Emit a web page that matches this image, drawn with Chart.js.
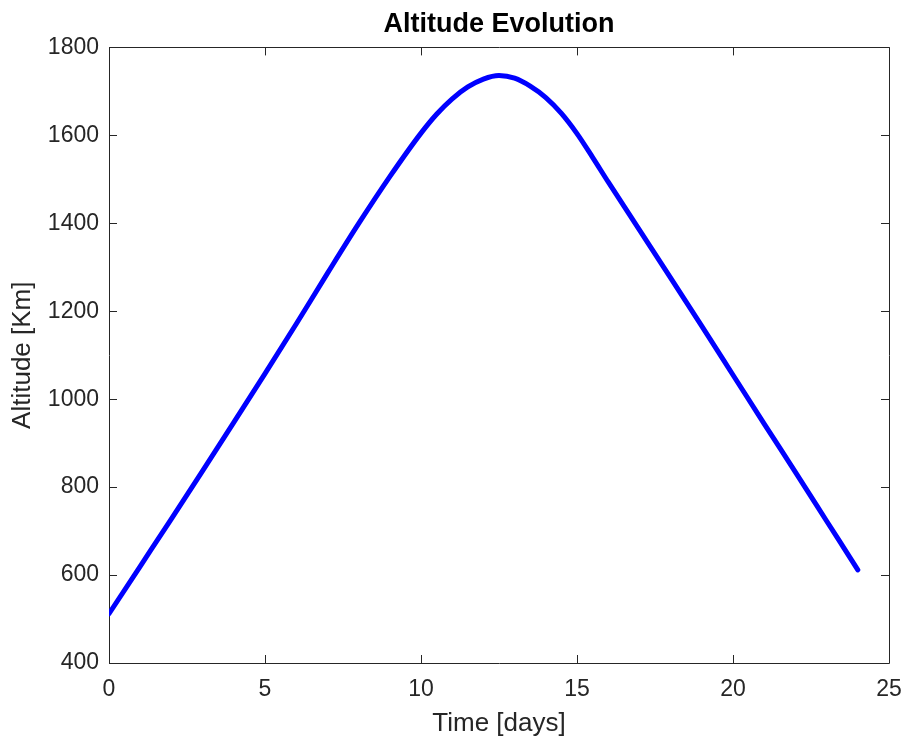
<!DOCTYPE html>
<html>
<head>
<meta charset="utf-8">
<script src="https://cdn.jsdelivr.net/npm/chart.js@4.4.0/dist/chart.umd.min.js"></script>
<style>
  html, body { margin: 0; padding: 0; background: #fff; }
  #wrap { width: 906px; height: 740px; }
</style>
</head>
<body>
<div id="wrap"><canvas id="altChart" width="906" height="740"></canvas></div>
<script>
// values
const days = [0, 1, 2, 3, 4, 5, 6, 7, 8, 9, 10, 10.5, 11, 11.5, 12, 12.5, 13, 13.5, 14, 14.5, 15, 15.5, 16, 17, 18, 19, 20, 21, 22, 23, 24];
const altitudeKm = [512, 620, 728, 837, 947, 1058, 1171, 1286, 1399, 1506, 1605, 1648, 1683, 1710, 1728, 1736, 1730, 1712, 1686, 1650, 1604, 1550, 1494, 1385, 1276, 1166, 1055, 944, 834, 723, 612];
const xTicks = [0, 5, 10, 15, 20, 25];
const yTicks = [400, 600, 800, 1000, 1200, 1400, 1600, 1800];

const FONT = '"Liberation Sans", Arial, Helvetica, sans-serif';
const AXIS_COLOR = "#262626";

// matlab style box with ticks pointing inwards
const boxPlugin = {
  id: "box",
  beforeDatasetsDraw(chart) {
    const { ctx, chartArea: a, scales: { x, y } } = chart;
    const len = 8;
    ctx.save();
    ctx.strokeStyle = AXIS_COLOR;
    ctx.lineWidth = 1;
    ctx.beginPath();
    ctx.rect(Math.round(a.left) + 0.5, Math.round(a.top) + 0.5,
      Math.round(a.right) - Math.round(a.left), Math.round(a.bottom) - Math.round(a.top));
    x.ticks.forEach(t => {
      const px = Math.round(x.getPixelForValue(t.value)) + 0.5;
      ctx.moveTo(px, a.bottom); ctx.lineTo(px, a.bottom - len);
      ctx.moveTo(px, a.top); ctx.lineTo(px, a.top + len);
    });
    y.ticks.forEach(t => {
      const py = Math.round(y.getPixelForValue(t.value)) + 0.5;
      ctx.moveTo(a.left, py); ctx.lineTo(a.left + len, py);
      ctx.moveTo(a.right, py); ctx.lineTo(a.right - len, py);
    });
    ctx.stroke();
    ctx.restore();
  }
};

const points = days.map((d, i) => ({ x: d, y: altitudeKm[i] }));

new Chart(document.getElementById("altChart").getContext("2d"), {
  type: "line",
  data: {
    datasets: [{
      label: "Altitude",
      data: points,
      borderColor: "#0000ff",
      borderWidth: 5,
      pointRadius: 0,
      fill: false,
      cubicInterpolationMode: "monotone",
      borderCapStyle: "round",
      borderJoinStyle: "round"
    }]
  },
  options: {
    responsive: false,
    animation: false,
    layout: { padding: { left: 0, right: 17, top: 0, bottom: 0 } },
    plugins: {
      legend: { display: false },
      tooltip: { enabled: false },
      title: {
        display: true,
        fullSize: false,
        text: "Altitude Evolution",
        color: "#000",
        font: { family: FONT, size: 27, weight: "bold" },
        padding: { top: 8, bottom: 7 }
      }
    },
    scales: {
      x: {
        type: "linear",
        min: 0,
        max: 25,
        afterBuildTicks: s => { s.ticks = xTicks.map(v => ({ value: v })); },
        afterFit: s => { s.height = 77; s.paddingLeft = 0; s.paddingRight = 0; },
        grid: { display: false, drawTicks: false },
        border: { display: false },
        ticks: { color: AXIS_COLOR, font: { family: FONT, size: 23 }, padding: 13, maxRotation: 0 },
        title: {
          display: true,
          text: "Time [days]",
          color: AXIS_COLOR,
          font: { family: FONT, size: 26 },
          padding: { top: 0, bottom: 1 }
        }
      },
      y: {
        min: 400,
        max: 1800,
        afterBuildTicks: s => { s.ticks = yTicks.map(v => ({ value: v })); },
        afterFit: s => { s.width = 109; },
        grid: { display: false, drawTicks: false },
        border: { display: false },
        ticks: {
          color: AXIS_COLOR,
          font: { family: FONT, size: 23 },
          padding: 10,
          callback: v => String(v)
        },
        title: {
          display: true,
          text: "Altitude [Km]",
          color: AXIS_COLOR,
          font: { family: FONT, size: 26 },
          padding: { top: 7, bottom: 0 }
        }
      }
    }
  },
  plugins: [boxPlugin]
});
</script>
</body>
</html>
